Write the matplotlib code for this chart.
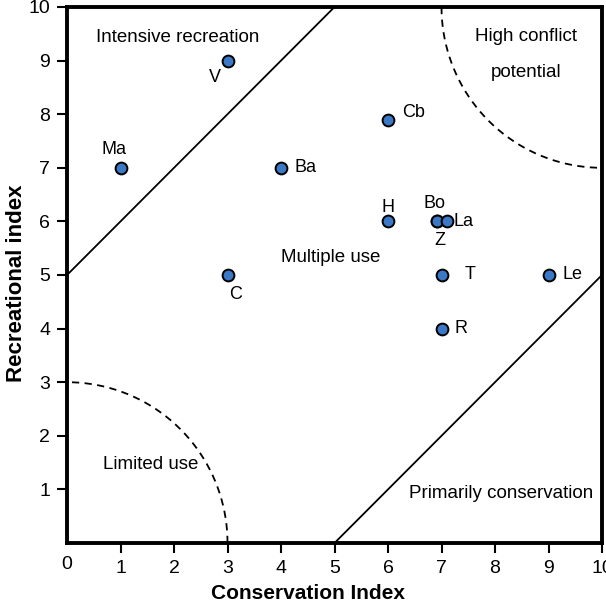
import matplotlib.pyplot as plt
import numpy as np

plt.rcParams['font.family'] = ['Liberation Sans', 'DejaVu Sans']

# sites: conservation index (x) and recreational index (y)
sites = ["Ma", "V", "Ba", "Cb", "H", "Bo", "Z", "La", "C", "T", "Le", "R"]
cons_idx = [1, 3, 4, 6, 6, 6.92, 6.92, 7.1, 3, 7, 9, 7]
rec_idx = [7, 9, 7, 7.9, 6, 6, 6, 6, 5, 5, 5, 4]

zones = ["Intensive recreation", "High conflict\npotential", "Multiple use",
         "Limited use", "Primarily conservation"]
zone_x = [2.07, 8.58, 4.92, 1.57, 8.11]
zone_y = [9.44, 9.11, 5.32, 1.46, 0.93]

ticks = list(range(1, 11))

# label offsets in points (dx, dy, ha)
offsets = {
    "Ma": (-5, 13, "center"), "V": (-9, -12, "center"), "Ba": (10, 0, "left"),
    "Cb": (10, 5, "left"), "H": (0, 10, "center"), "Bo": (-2, 13, "center"),
    "Z": (2, -14, "center"), "La": (5, 0, "left"), "C": (6, -14, "center"),
    "T": (17, 0, "left"), "Le": (10, 0, "left"), "R": (9, 0, "left"),
}

fig = plt.figure(figsize=(6.06, 6.03), dpi=100)
ax = fig.add_axes([0.1106, 0.0995, 0.8828, 0.8889])

# zone boundaries
ax.plot([0, 5], [5, 10], color='black', lw=1.3)
ax.plot([5, 10], [0, 5], color='black', lw=1.3)
t = np.linspace(0, np.pi / 2, 200)
ax.plot(3 * np.cos(t), 3 * np.sin(t), color='black', lw=1.3, ls=(0, (4, 3)))
ax.plot(10 - 3 * np.cos(t), 10 - 3 * np.sin(t), color='black', lw=1.3, ls=(0, (4, 3)))

ax.scatter(cons_idx, rec_idx, s=72, color='#3b78c6', edgecolor='black',
           linewidth=1.4, zorder=3)

for name, x, y in zip(sites, cons_idx, rec_idx):
    dx, dy, ha = offsets[name]
    ax.annotate(name, (x, y), xytext=(dx, dy), textcoords='offset points',
                ha=ha, va='center', fontsize=13)

for txt, x, y in zip(zones, zone_x, zone_y):
    ax.text(x, y, txt, ha='center', va='center', fontsize=13.5, linespacing=2.45)

ax.set_xlim(0, 10)
ax.set_ylim(0, 10)
ax.set_xticks(ticks)
ax.set_yticks(ticks)
ax.tick_params(labelsize=14, length=7, width=1.5, direction='out')
ax.tick_params(axis='x', pad=5.5)
ax.tick_params(axis='y', pad=5)
ax.text(0, -0.25, "0", ha='center', va='top', fontsize=14)
for sp in ax.spines.values():
    sp.set_linewidth(2.8)

ax.set_xlabel("Conservation Index", fontsize=15, fontweight='bold', va='top')
ax.set_ylabel("Recreational index", fontsize=16, fontweight='bold', va='center')
ax.xaxis.set_label_coords(0.45, -0.076, transform=ax.transAxes)
ax.yaxis.set_label_coords(-0.095, 0.484, transform=ax.transAxes)

plt.savefig('out.png', dpi=100)
